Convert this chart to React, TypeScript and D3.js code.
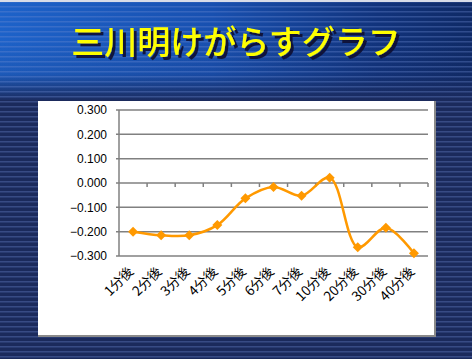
import React from "react";
import * as d3 from "d3";

const W = 472;
const H = 359;
const title = "三川明けがらすグラフ";
const categories = ["1分後", "2分後", "3分後", "4分後", "5分後", "6分後", "7分後", "10分後", "20分後", "30分後", "40分後"];
const values = [-0.2, -0.215, -0.215, -0.173, -0.063, -0.016, -0.052, 0.022, -0.264, -0.184, -0.289];
const yTicks = [0.3, 0.2, 0.1, 0, -0.1, -0.2, -0.3];

export default function App() {
  const plot = { left: 119, right: 428, top: 110, bottom: 256 };
  const x = d3.scaleBand<string>().domain(categories).range([plot.left, plot.right]);
  const y = d3.scaleLinear().domain([-0.3, 0.3]).range([plot.bottom, plot.top]);
  const fmt = d3.format(".3f");
  const pts: [number, number][] = categories.map((c, i) => [x(c)! + x.bandwidth() / 2, y(values[i])]);
  const line = d3.line().curve(d3.curveCatmullRom.alpha(0.5))(pts) || "";
  const boundaries = categories.map((c) => x(c)! + x.bandwidth());
  const y0 = y(0);

  return (
    <div style={{ position: "fixed", left: 0, top: 0, width: W, height: H }}>
      <svg width={W} height={H} style={{ display: "block" }}>
        <defs>
          <linearGradient id="topH" x1="0" x2="1" y1="0" y2="0">
            <stop offset="0" stopColor="#1d62c9" />
            <stop offset="0.45" stopColor="#1850b0" />
            <stop offset="0.8" stopColor="#11337c" />
            <stop offset="1" stopColor="#0f2a66" />
          </linearGradient>
          <linearGradient id="fadeV" x1="0" x2="0" y1="0" y2="1">
            <stop offset="0" stopColor="#1b2a5c" stopOpacity="0" />
            <stop offset="0.55" stopColor="#1b2a5c" stopOpacity="0.15" />
            <stop offset="1" stopColor="#1b2a5c" stopOpacity="1" />
          </linearGradient>
          <pattern id="stripes" width="8" height="5" patternUnits="userSpaceOnUse">
            <rect x="0" y="1" width="8" height="1.5" fill="#6d8ad0" opacity="0.35" />
          </pattern>
          <filter id="shadow" x="-10%" y="-30%" width="130%" height="170%">
            <feDropShadow dx="3" dy="3" stdDeviation="0.6" floodColor="#0a1030" floodOpacity="0.9" />
          </filter>
        </defs>
        <rect x={0} y={0} width={W} height={H} fill="#1b2a5c" />
        <rect x={0} y={0} width={W} height={100} fill="url(#topH)" />
        <rect x={0} y={40} width={W} height={62} fill="url(#fadeV)" />
        <rect x={0} y={0} width={W} height={H} fill="url(#stripes)" />
        <rect x={0} y={0} width={W} height={2} fill="#d8dce8" />

        <text x={W / 2} y={54} textAnchor="middle" fontFamily="'Noto Sans CJK JP'" fontWeight={500} fontSize={33} fill="#ffff00" filter="url(#shadow)">{title}</text>

        <rect x={38} y={101} width={398} height={236} fill="#ffffff" />
        <line x1={435} x2={435} y1={101} y2={337} stroke="#8a8a8a" strokeWidth={2} />
        <line x1={38} x2={436} y1={336} y2={336} stroke="#8a8a8a" strokeWidth={2} />

        {yTicks.map((t) => (
          <g key={t}>
            <line x1={plot.left - 3} x2={plot.right} y1={y(t)} y2={y(t)} stroke="#808080" strokeWidth={1.5} />
            <text x={107} y={y(t)} dy="0.35em" textAnchor="end" fontFamily="'Liberation Sans', Arial" fontSize={12} fill="#000">{fmt(t)}</text>
          </g>
        ))}
        <line x1={plot.left} x2={plot.left} y1={plot.top} y2={plot.bottom} stroke="#808080" strokeWidth={1.5} />
        {boundaries.map((b, i) => (
          <line key={i} x1={b} x2={b} y1={y0} y2={y0 + 4} stroke="#808080" strokeWidth={1.5} />
        ))}

        <path d={line} fill="none" stroke="#ff9900" strokeWidth={2.5} />
        {pts.map(([px, py], i) => (
          <path key={i} d={`M${px},${py - 5}L${px + 5},${py}L${px},${py + 5}L${px - 5},${py}Z`} fill="#ff9900" />
        ))}

        {categories.map((c) => {
          const cx = x(c)! + x.bandwidth() / 2;
          return (
            <text key={c} transform={`translate(${cx - 2},${269}) rotate(-45)`} textAnchor="end" dy="0.35em" fontFamily="'Noto Sans CJK JP'" fontSize={13.5} fill="#000">{c}</text>
          );
        })}
      </svg>
    </div>
  );
}
